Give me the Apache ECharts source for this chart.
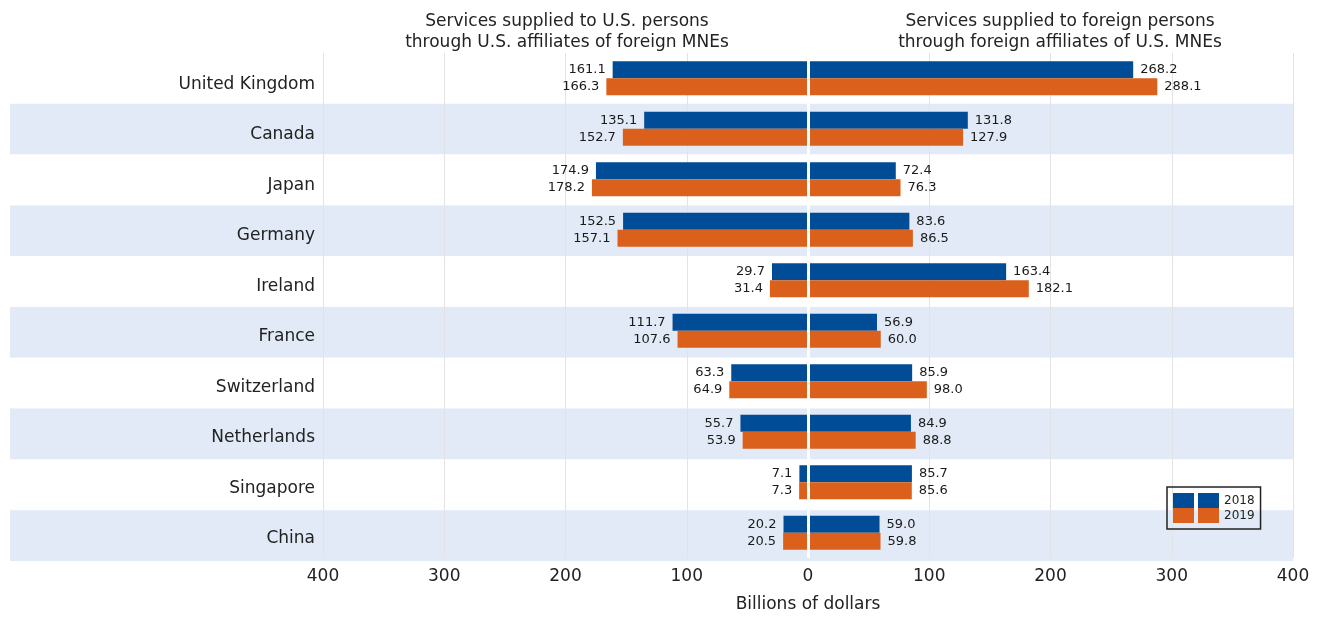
<!DOCTYPE html>
<html>
<head>
<meta charset="utf-8">
<script src="https://cdn.jsdelivr.net/npm/echarts@6/dist/echarts.min.js"></script>
<style>
  html, body { margin: 0; padding: 0; background: #ffffff; }
  #chart { width: 1322px; height: 618px; }
</style>
</head>
<body>
<div id="chart"></div>
<script>
var countries = ['United Kingdom', 'Canada', 'Japan', 'Germany', 'Ireland', 'France', 'Switzerland', 'Netherlands', 'Singapore', 'China'];
// Services supplied to U.S. persons through U.S. affiliates of foreign MNEs
var toUS2018 = [161.1, 135.1, 174.9, 152.5, 29.7, 111.7, 63.3, 55.7, 7.1, 20.2];
var toUS2019 = [166.3, 152.7, 178.2, 157.1, 31.4, 107.6, 64.9, 53.9, 7.3, 20.5];
// Services supplied to foreign persons through foreign affiliates of U.S. MNEs
var toForeign2018 = [268.2, 131.8, 72.4, 83.6, 163.4, 56.9, 85.9, 84.9, 85.7, 59.0];
var toForeign2019 = [288.1, 127.9, 76.3, 86.5, 182.1, 60.0, 98.0, 88.8, 85.6, 59.8];
var xTicks = [-400, -300, -200, -100, 0, 100, 200, 300, 400];

var FONT = 'DejaVu Sans';
var BLUE = '#004c97';
var ORANGE = '#da601b';
var TXT = '#222222';

var chart = echarts.init(document.getElementById('chart'), null, { renderer: 'canvas' });

function valLabel(pos) {
  return {
    show: true,
    position: pos,
    distance: 7,
    fontFamily: FONT,
    fontSize: 13,
    color: '#1a1a1a',
    formatter: function (p) { return Math.abs(p.value).toFixed(1); }
  };
}

var option = {
  backgroundColor: '#ffffff',
  animation: false,
  textStyle: { fontFamily: FONT },
  title: [
    {
      text: 'Services supplied to U.S. persons\nthrough U.S. affiliates of foreign MNEs',
      left: 562, top: 6, textAlign: 'center',
      textStyle: { fontFamily: FONT, fontSize: 17, fontWeight: 'normal', color: TXT, lineHeight: 21 }
    },
    {
      text: 'Services supplied to foreign persons\nthrough foreign affiliates of U.S. MNEs',
      left: 1055, top: 6, textAlign: 'center',
      textStyle: { fontFamily: FONT, fontSize: 17, fontWeight: 'normal', color: TXT, lineHeight: 21 }
    }
  ],
  legend: {
    data: ['2018', '2019'],
    orient: 'vertical',
    left: 1167, top: 487,
    padding: [6, 6, 6, 6],
    itemWidth: 46, itemHeight: 15, itemGap: 0,
    borderColor: '#222', borderWidth: 1.5,
    icon: 'path://M0,0h21v15h-21z M25,0h21v15h-21z',
    textStyle: { fontFamily: FONT, fontSize: 12, color: TXT },
    selectedMode: false
  },
  grid: [
    { left: 323, right: 29, top: 53, bottom: 57 },
    { left: 10, right: 29, top: 53, bottom: 57 }
  ],
  xAxis: [
    {
      type: 'value', gridIndex: 0, min: -400, max: 400, interval: 100, z: 1,
      axisLine: { show: false }, axisTick: { show: false },
      splitLine: { show: true, lineStyle: { color: '#e3e3e3', width: 1 } },
      axisLabel: {
        fontFamily: FONT, fontSize: 17, color: TXT, margin: 10,
        formatter: function (v) { return String(Math.abs(v)); }
      },
      name: 'Billions of dollars', nameLocation: 'middle', nameGap: 38,
      nameTextStyle: { fontFamily: FONT, fontSize: 17, color: TXT }
    },
    {
      type: 'value', gridIndex: 1, min: 0, max: 1, show: false
    }
  ],
  yAxis: [
    {
      type: 'category', gridIndex: 0, data: countries, inverse: true, z: 1,
      axisLine: { show: false }, axisTick: { show: false },
      splitLine: { show: false },
      axisLabel: { fontFamily: FONT, fontSize: 17, color: TXT, margin: 8, verticalAlign: 'top', lineHeight: 12 }
    },
    {
      type: 'category', gridIndex: 1, data: countries, inverse: true, z: 0,
      axisLine: { show: false }, axisTick: { show: false }, axisLabel: { show: false },
      splitLine: { show: false },
      splitArea: { show: true, areaStyle: { color: ['#ffffff', '#e1eaf6'] } }
    }
  ],
  series: [
    {
      name: '2018', type: 'bar', stack: 'y2018', xAxisIndex: 0, yAxisIndex: 0,
      data: toUS2018.map(function (v) { return -v; }),
      barWidth: 17, barGap: '0%', z: 3,
      itemStyle: { color: BLUE },
      label: valLabel('left')
    },
    {
      name: '2019', type: 'bar', stack: 'y2019', xAxisIndex: 0, yAxisIndex: 0,
      data: toUS2019.map(function (v) { return -v; }),
      barWidth: 17, barGap: '0%', z: 3,
      itemStyle: { color: ORANGE },
      label: valLabel('left')
    },
    {
      name: '2018', type: 'bar', stack: 'y2018', xAxisIndex: 0, yAxisIndex: 0,
      data: toForeign2018,
      barWidth: 17, barGap: '0%', z: 3,
      itemStyle: { color: BLUE },
      label: valLabel('right')
    },
    {
      name: '2019', type: 'bar', stack: 'y2019', xAxisIndex: 0, yAxisIndex: 0,
      data: toForeign2019,
      barWidth: 17, barGap: '0%', z: 3,
      itemStyle: { color: ORANGE },
      label: valLabel('right'),
      markLine: {
        silent: true, symbol: ['none', 'none'], animation: false,
        label: { show: false },
        lineStyle: { color: '#ffffff', width: 3, type: 'solid' },
        data: [{ xAxis: 0 }]
      }
    }
  ]
};

chart.setOption(option);
</script>
</body>
</html>
